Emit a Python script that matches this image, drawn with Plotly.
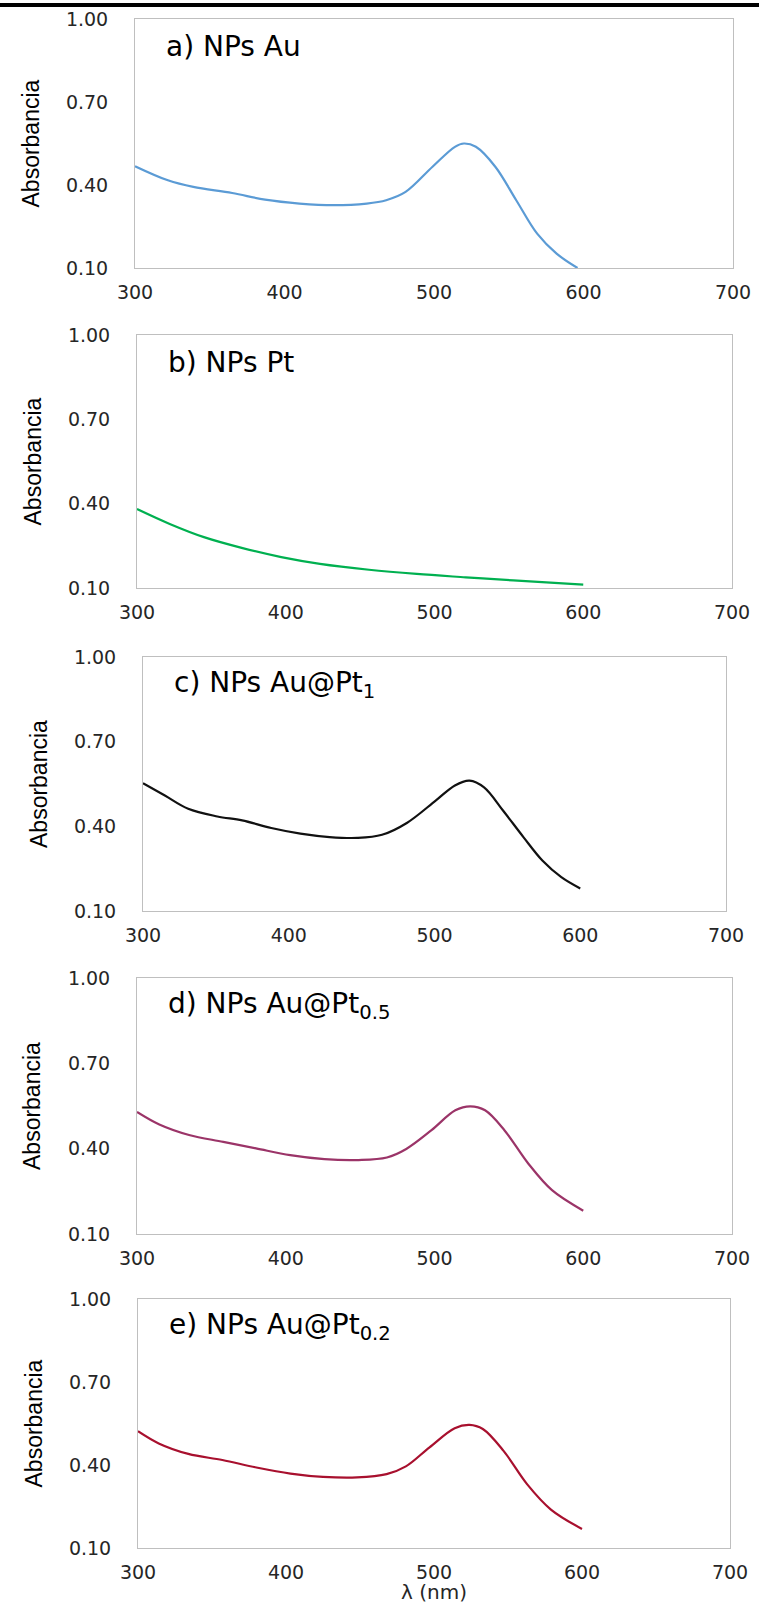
import plotly.graph_objects as go

W, H = 759, 1604

# ---------------- data ----------------
wl_au = [300, 322, 339, 365, 387, 410, 433, 455, 468, 481, 499, 514, 520, 528, 541, 555, 569, 582, 596]
abs_au = [0.468, 0.417, 0.393, 0.371, 0.347, 0.333, 0.327, 0.333, 0.345, 0.375, 0.466, 0.538, 0.550, 0.538, 0.466, 0.345, 0.224, 0.152, 0.100]

wl_pt = [300, 322, 345, 371, 397, 423, 456, 488, 521, 553, 600]
abs_pt = [0.381, 0.328, 0.281, 0.242, 0.210, 0.186, 0.165, 0.150, 0.138, 0.127, 0.112]

wl_aupt1 = [300, 315, 331, 351, 368, 388, 408, 428, 447, 464, 481, 501, 514, 524, 534, 547, 561, 574, 587, 600]
abs_aupt1 = [0.553, 0.509, 0.462, 0.435, 0.421, 0.394, 0.374, 0.362, 0.359, 0.370, 0.412, 0.492, 0.545, 0.562, 0.538, 0.456, 0.362, 0.279, 0.220, 0.180]

wl_aupt05 = [300, 315, 335, 358, 380, 403, 426, 449, 468, 481, 498, 514, 524, 534, 547, 563, 579, 600]
abs_aupt05 = [0.529, 0.485, 0.448, 0.424, 0.401, 0.377, 0.363, 0.360, 0.369, 0.399, 0.465, 0.535, 0.549, 0.535, 0.465, 0.348, 0.254, 0.182]

wl_aupt02 = [300, 314, 334, 357, 380, 403, 425, 448, 468, 481, 497, 514, 524, 533, 547, 563, 579, 600]
abs_aupt02 = [0.522, 0.478, 0.440, 0.418, 0.391, 0.369, 0.357, 0.355, 0.367, 0.395, 0.464, 0.533, 0.545, 0.530, 0.451, 0.330, 0.239, 0.169]

panel_titles = ["a) NPs Au", "b) NPs Pt", "c) NPs Au@Pt<sub>1</sub>",
                "d) NPs Au@Pt<sub>0.5</sub>", "e) NPs Au@Pt<sub>0.2</sub>"]
x_ticks = [300, 400, 500, 600, 700]
y_ticks = [0.10, 0.40, 0.70, 1.00]
y_title = "Absorbancia"
x_title = "λ (nm)"

# ---------------- styling / layout ----------------
series = [(wl_au, abs_au), (wl_pt, abs_pt), (wl_aupt1, abs_aupt1),
          (wl_aupt05, abs_aupt05), (wl_aupt02, abs_aupt02)]
colors = ["#5B9BD5", "#00B050", "#111111", "#9B3468", "#A8102E"]

# plot-area pixel boxes: (left, right, top, bottom)
boxes = [(135, 733, 19, 268), (137, 732, 335, 588), (143, 726, 657, 911),
         (137, 732, 978, 1234), (138, 730, 1299, 1548)]
title_pos = [(164, 46), (166, 362), (172, 684), (166, 1005), (167, 1326)]
ytitle_x = [31, 32, 39, 32, 33]

TICK_FONT = dict(family="DejaVu Sans", size=19, color="#262626")

fig = go.Figure()
annotations = []
for i, ((xs, ys), col, (l, r, t, b)) in enumerate(zip(series, colors, boxes)):
    n = "" if i == 0 else str(i + 1)
    fig.add_trace(go.Scatter(x=xs, y=ys, mode="lines", xaxis="x" + n, yaxis="y" + n,
                             line=dict(color=col, width=2.2, shape="spline", smoothing=1.0),
                             showlegend=False, hoverinfo="skip"))
    xa = dict(domain=[l / W, r / W], range=[300, 700], tickvals=x_ticks, automargin=False,
              showgrid=False, zeroline=False, showline=True, mirror=True,
              linecolor="#BFBFBF", linewidth=1, ticks="outside", ticklen=7,
              tickcolor="rgba(0,0,0,0)", tickfont=TICK_FONT, anchor="y" + n)
    ya = dict(domain=[1 - b / H, 1 - t / H], range=[0.1, 1.0], tickvals=y_ticks, automargin=False,
              tickformat=".2f", showgrid=False, zeroline=False, showline=True, mirror=True,
              linecolor="#BFBFBF", linewidth=1, ticks="outside", ticklen=22,
              tickcolor="rgba(0,0,0,0)", tickfont=TICK_FONT, anchor="x" + n)
    fig.update_layout(**{"xaxis" + n: xa, "yaxis" + n: ya})

    tx, ty = title_pos[i]
    annotations.append(dict(text=panel_titles[i], x=tx / W, y=1 - ty / H, xref="paper", yref="paper",
                            xanchor="left", yanchor="middle", showarrow=False,
                            font=dict(family="DejaVu Sans", size=28, color="#000000")))
    annotations.append(dict(text=y_title, x=ytitle_x[i] / W, y=1 - (t + b) / 2 / H,
                            xref="paper", yref="paper", xanchor="center", yanchor="middle",
                            textangle=-90, showarrow=False,
                            font=dict(family="Liberation Sans, Arial, sans-serif",
                                      size=23, color="#000000")))

annotations.append(dict(text=x_title, x=434 / W, y=1 - 1592 / H, xref="paper", yref="paper",
                        xanchor="center", yanchor="middle", showarrow=False,
                        font=dict(family="DejaVu Sans", size=20, color="#262626")))

fig.update_layout(
    width=W, height=H, autosize=False, margin=dict(l=0, r=0, t=0, b=0, pad=0),
    paper_bgcolor="white", plot_bgcolor="white",
    annotations=annotations,
    shapes=[dict(type="rect", xref="paper", yref="paper", x0=0, x1=1,
                 y0=1 - 7 / H, y1=1 - 3 / H, fillcolor="black", line=dict(width=0))],
)

fig.write_html("out.html")
